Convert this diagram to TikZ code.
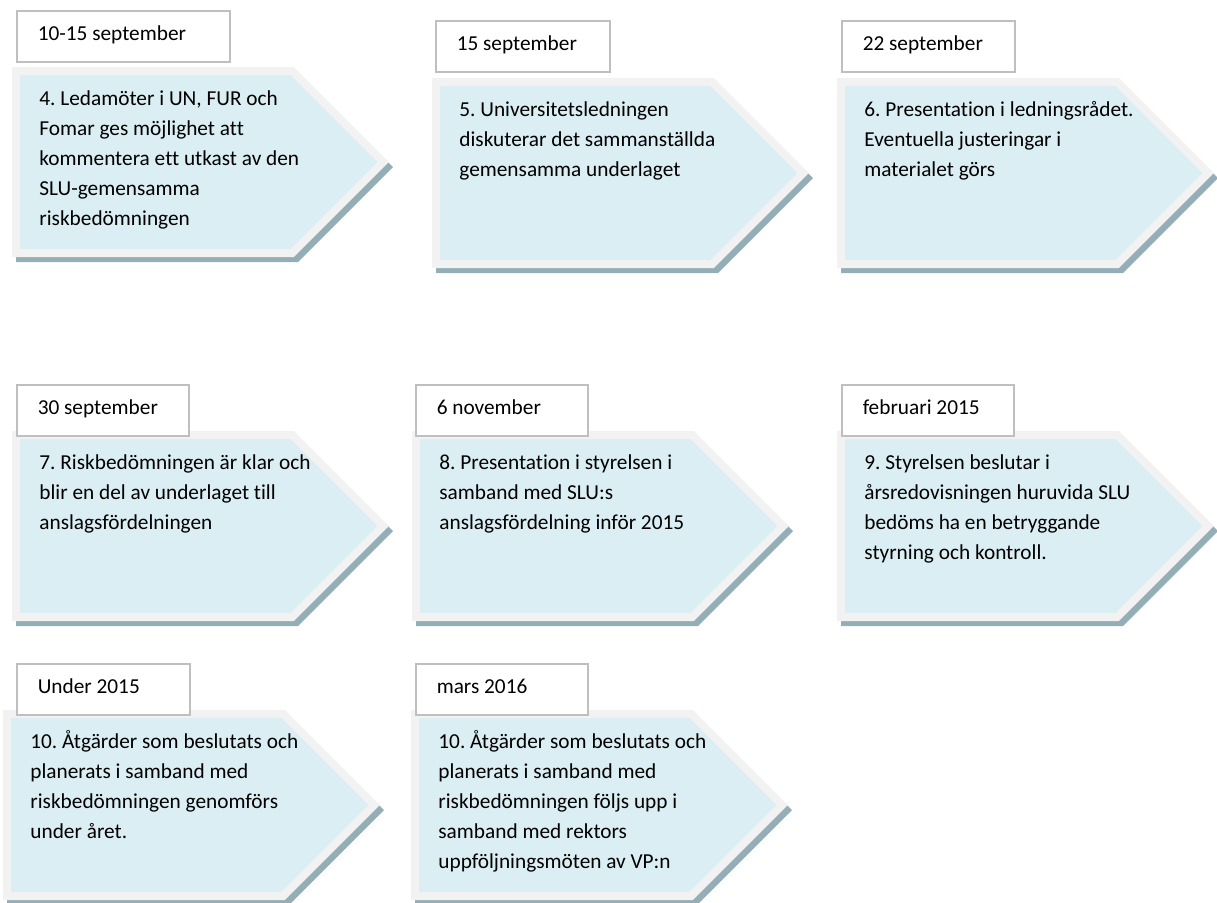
\documentclass[tikz,border=0pt]{standalone}
\usepackage{fontspec}
\setmainfont{Carlito}[Ligatures=NoCommon]
\frenchspacing

\definecolor{cardfill}{HTML}{DAEEF3}
\definecolor{cardrim}{HTML}{F2F2F2}
\definecolor{cardshadow}{HTML}{93AEB6}
\definecolor{daterim}{HTML}{BFBFBF}

% #1 name, #2/#3 card corner, #4/#5 date box corner, #6 date text width, #7 date, #8 text
\newcommand{\slucard}[8]{%
  \fill[cardshade] (#2+4,#3+5) -- ++(282,0) -- ++(95,95) -- ++(-95,95) -- ++(-282,0) -- cycle;
  \draw[card] (#2+4,#3+4) -- (#2+280.3,#3+4) -- (#2+371.3,#3+95) -- (#2+280.3,#3+186) -- (#2+4,#3+186) -- cycle;
  \node[steptext] (step#1) at (#2+27,#3+17) {\strut #8};
  \node[datebox, text width=#6] (date#1) at (#4,#5) {#7};
}

\begin{document}
\begin{tikzpicture}[
    x=0.5pt, y=-0.5pt,
    font=\fontsize{10.65}{15}\selectfont,
    card/.style={fill=cardfill, draw=cardrim, line width=4pt, line join=miter},
    cardshade/.style={fill=cardshadow},
    datebox/.style={draw=daterim, line width=0.75pt, fill=white, minimum height=25.5pt, inner xsep=10.5pt, inner ysep=0pt, text height=0.62em, text depth=0.22em, align=flush left, anchor=north west},
    steptext/.style={inner sep=0pt, align=flush left, anchor=north west}
]
\useasboundingbox (0,0) rectangle (1217,902);

% first row
\slucard{4}{12}{67}{16}{10}{85.5pt}{10-15 september}{4. Ledamöter i UN, FUR och\\Fomar ges möjlighet att\\kommentera ett utkast av den\\SLU-gemensamma\\riskbedömningen}
\slucard{5}{432}{78}{435}{20}{66pt}{15 september}{5. Universitetsledningen\\diskuterar det sammanställda\\gemensamma underlaget}
\slucard{6}{837}{78}{841}{20}{65.5pt}{22 september}{6. Presentation i ledningsrådet.\\Eventuella justeringar i\\materialet görs}

% second row
\slucard{7}{12}{431}{16}{384}{65pt}{30 september}{7. Riskbedömningen är klar och\\blir en del av underlaget till\\anslagsfördelningen}
\slucard{8}{412}{431}{415}{384}{65pt}{6 november}{8. Presentation i styrelsen i\\samband med SLU:s\\anslagsfördelning inför 2015}
\slucard{9}{837}{431}{841}{384}{65pt}{februari 2015}{9. Styrelsen beslutar i\\årsredovisningen huruvida SLU\\bedöms ha en betryggande\\styrning och kontroll.}

% third row
\slucard{10a}{3}{710}{16}{663}{65.5pt}{Under 2015}{10. Åtgärder som beslutats och\\planerats i samband med\\riskbedömningen genomförs\\under året.}
\slucard{10b}{411}{710}{415}{663}{65pt}{mars 2016}{10. Åtgärder som beslutats och\\planerats i samband med\\riskbedömningen följs upp i\\samband med rektors\\uppföljningsmöten av VP:n}

\end{tikzpicture}
\end{document}
